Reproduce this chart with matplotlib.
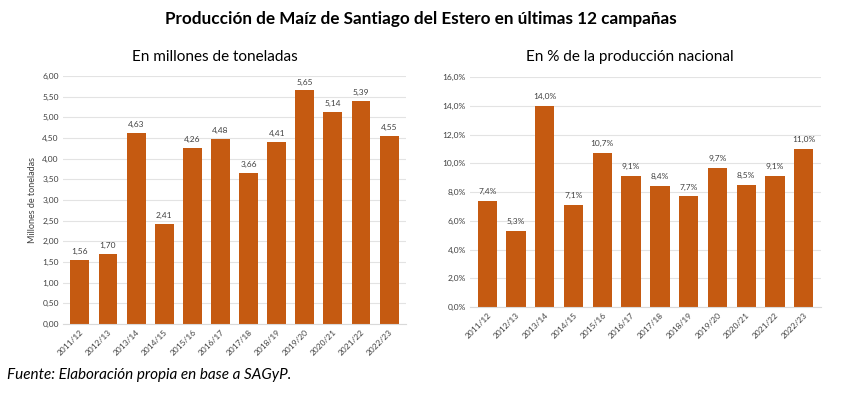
import matplotlib
matplotlib.use("Agg")
import matplotlib.pyplot as plt

# Data
campanas = ["2011/12", "2012/13", "2013/14", "2014/15", "2015/16", "2016/17",
            "2017/18", "2018/19", "2019/20", "2020/21", "2021/22", "2022/23"]
millones_tn = [1.56, 1.70, 4.63, 2.41, 4.26, 4.48, 3.66, 4.41, 5.65, 5.14, 5.39, 4.55]
pct_nacional = [7.4, 5.3, 14.0, 7.1, 10.7, 9.1, 8.4, 7.7, 9.7, 8.5, 9.1, 11.0]

bar_color = "#C55A11"
grid_color = "#E3E3E3"
text_color = "#404040"

plt.rcParams["font.family"] = ["Lato", "DejaVu Sans"]

fig = plt.figure(figsize=(8.42, 3.95), dpi=100)
W, H = 842, 395


def px_axes(x0, y0, x1, y1):
    return fig.add_axes([x0 / W, 1 - y1 / H, (x1 - x0) / W, (y1 - y0) / H])


def comma(v, fmt):
    return (fmt % v).replace(".", ",")


def style(ax):
    for s in ["top", "right", "left"]:
        ax.spines[s].set_visible(False)
    ax.spines["bottom"].set_color("#D9D9D9")
    ax.yaxis.grid(True, color=grid_color, linewidth=0.8)
    ax.set_axisbelow(True)
    ax.tick_params(axis="both", length=0, labelsize=6, colors=text_color, pad=3)
    ax.set_xticks(range(len(campanas)))
    ax.set_xticklabels(campanas, rotation=45, ha="right", rotation_mode="anchor")
    ax.set_xlim(-0.6, len(campanas) - 0.4)


# Left chart: millones de toneladas
ax1 = px_axes(63, 76, 406, 324)
x = range(len(campanas))
ax1.bar(x, millones_tn, width=0.67, color=bar_color)
style(ax1)
ax1.set_ylim(0, 6)
ax1.set_yticks([i * 0.5 for i in range(13)])
ax1.set_yticklabels([comma(i * 0.5, "%.2f") for i in range(13)])
ax1.set_ylabel("Millones de toneladas", fontsize=6.5, color=text_color, labelpad=4)
for i, v in enumerate(millones_tn):
    ax1.text(i, v + 0.12, comma(v, "%.2f"), ha="center", va="bottom",
             fontsize=6, color=text_color)

# Right chart: % de la produccion nacional
ax2 = px_axes(470, 77, 821, 307)
ax2.bar(x, pct_nacional, width=0.67, color=bar_color)
style(ax2)
ax2.set_ylim(0, 16)
ax2.set_yticks(range(0, 17, 2))
ax2.set_yticklabels([comma(t, "%.1f") + "%" for t in range(0, 17, 2)])
for i, v in enumerate(pct_nacional):
    ax2.text(i, v + 0.4, comma(v, "%.1f") + "%", ha="center", va="bottom",
             fontsize=6, color=text_color)

# Titles
fig.text(421 / W, 1 - 19 / H, "Producción de Maíz de Santiago del Estero en últimas 12 campañas",
         ha="center", va="center", fontsize=12.3, fontweight="bold", color="black")
fig.text(215 / W, 1 - 57 / H, "En millones de toneladas", ha="center", va="center",
         fontsize=11, color="black")
fig.text(630 / W, 1 - 57 / H, "En % de la producción nacional", ha="center", va="center",
         fontsize=11, color="black")
fig.text(7 / W, 1 - 375 / H, "Fuente: Elaboración propia en base a SAGyP.",
         ha="left", va="center", fontsize=11, style="italic", color="black")

fig.savefig("out.png", dpi=100)
